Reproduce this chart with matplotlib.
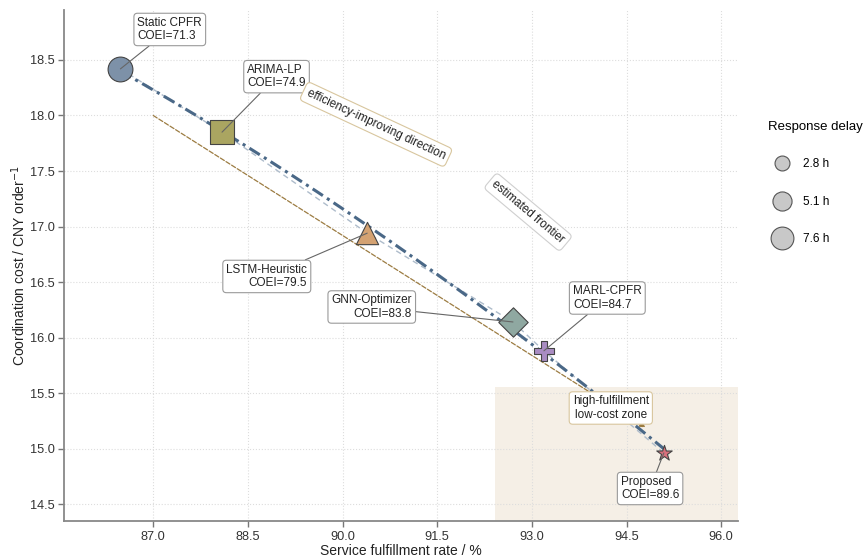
import numpy as np
import matplotlib
matplotlib.use('Agg')
import matplotlib.pyplot as plt
from matplotlib.lines import Line2D
from matplotlib.patches import Rectangle

plt.rcParams['font.family'] = ['Liberation Sans', 'DejaVu Sans']

# data
methods = ['Static CPFR', 'ARIMA-LP', 'LSTM-Heuristic', 'GNN-Optimizer', 'MARL-CPFR', 'Proposed']
fulfillment = [86.48, 88.09, 90.39, 92.70, 93.19, 95.09]
cost = [18.42, 17.85, 16.94, 16.14, 15.88, 14.96]
coei = [71.3, 74.9, 79.5, 83.8, 84.7, 89.6]
delay = [7.6, 6.9, 6.0, 5.1, 4.3, 2.8]
markers = ['o', 's', '^', 'D', 'P', '*']
colors = ['#7d91a8', '#aaa561', '#d4a272', '#8fa8a1', '#a98cc2', '#d9707c']
legend_delays = [2.8, 5.1, 7.6]

direction_start = (87.0, 18.0)
direction_end = (94.80, 15.19)
zone_x = 92.42
zone_y = 15.55

# label positions (text anchor in data coords) and alignment
label_pos = [(86.75, 18.775), (88.49, 18.35), (89.44, 16.55),
             (91.10, 16.275), (93.65, 16.356), (94.41, 14.64)]
label_ha = ['left', 'left', 'right', 'right', 'left', 'left']


def size_of(d):
    return 30 + 38 * d


fig = plt.figure(figsize=(8.66, 5.58), dpi=100)
ax = fig.add_axes([0.0742, 0.0663, 0.7776, 0.9157])
ax.set_xlim(85.59, 96.26)
ax.set_ylim(14.347, 18.95)

ax.add_patch(Rectangle((zone_x, 14.0), 10, zone_y - 14.0,
                       facecolor='#f5efe6', edgecolor='none', zorder=0))

# connecting polyline and fitted frontier
order = np.argsort(fulfillment)
xs = np.array(fulfillment)[order]
ys = np.array(cost)[order]
ax.plot(xs, ys, color='#aebccb', lw=1.0, linestyle=(0, (4, 3)), zorder=2)
coef = np.polyfit(xs, ys, 2)
xf = np.linspace(xs.min(), xs.max(), 200)
ax.plot(xf, np.polyval(coef, xf), color='#4a6887', lw=2.2,
        linestyle=(0, (4, 1.6, 1, 1.6)), zorder=3)

# efficiency arrow
ax.annotate('', xy=direction_end, xytext=direction_start,
            arrowprops=dict(arrowstyle='-|>', color='#9c7c42', lw=0.9,
                            linestyle='--', mutation_scale=8,
                            shrinkA=0, shrinkB=0), zorder=2)

for i in range(len(methods)):
    ax.scatter(fulfillment[i], cost[i], s=size_of(delay[i]), marker=markers[i],
               color=colors[i], edgecolor='#444444', linewidth=0.8, zorder=4)
    ax.annotate(f'{methods[i]}\nCOEI={coei[i]}', xy=(fulfillment[i], cost[i]),
                xytext=label_pos[i], textcoords='data', ha=label_ha[i], va='center',
                multialignment=label_ha[i], fontsize=8.5, color='#222222',
                linespacing=1.15,
                bbox=dict(boxstyle='round,pad=0.3', fc='white', ec='#9a9a9a', lw=0.8),
                arrowprops=dict(arrowstyle='-', color='#666666', lw=0.8,
                                shrinkA=0, shrinkB=0), zorder=5)

ax.text(90.53, 17.92, 'efficiency-improving direction', rotation=-25,
        rotation_mode='anchor', ha='center', va='center', fontsize=8.5, color='#222222',
        bbox=dict(boxstyle='round,pad=0.35', fc='white', ec='#d8c69e', lw=0.8), zorder=5)
ax.text(92.94, 17.13, 'estimated frontier', rotation=-40,
        rotation_mode='anchor', ha='center', va='center', fontsize=8.5, color='#222222',
        bbox=dict(boxstyle='round,pad=0.35', fc='white', ec='#cfcfcf', lw=0.8), zorder=5)
ax.text(94.25, 15.365, 'high-fulfillment\nlow-cost zone', ha='center', va='center',
        multialignment='center', fontsize=8.5, color='#222222', linespacing=1.15,
        bbox=dict(boxstyle='round,pad=0.3', fc='white', ec='#d8c69e', lw=0.8), zorder=5)

ax.set_xticks([87.0, 88.5, 90.0, 91.5, 93.0, 94.5, 96.0])
ax.set_yticks([14.5, 15.0, 15.5, 16.0, 16.5, 17.0, 17.5, 18.0, 18.5])
ax.xaxis.set_major_formatter(matplotlib.ticker.FormatStrFormatter('%.1f'))
ax.yaxis.set_major_formatter(matplotlib.ticker.FormatStrFormatter('%.1f'))
ax.tick_params(labelsize=9.2, labelcolor='#333333', length=4, width=1,
               direction='out', color='#777777', pad=3)
ax.grid(True, linestyle=':', color='#dddddd', lw=0.8)
ax.set_axisbelow(True)
for s in ['top', 'right']:
    ax.spines[s].set_visible(False)
for s in ['left', 'bottom']:
    ax.spines[s].set_color('#888888')
    ax.spines[s].set_linewidth(1.3)

ax.set_xlabel('Service fulfillment rate / %', fontsize=10, color='#222222', labelpad=1)
ax.set_ylabel('Coordination cost / CNY order$^{-1}$', fontsize=10, color='#222222', labelpad=1.5)

handles = [Line2D([], [], marker='o', linestyle='none', markersize=np.sqrt(size_of(d)) * 0.92,
                  markerfacecolor='#c8c8c8', markeredgecolor='#555555', markeredgewidth=0.8)
           for d in legend_delays]
leg = fig.legend(handles, [f'{d} h' for d in legend_delays], title='Response delay',
                 loc='upper left', bbox_to_anchor=(0.876, 0.80), frameon=False,
                 fontsize=8.5, title_fontsize=9.5, labelspacing=2.15, handlelength=2.4,
                 handletextpad=0.6, borderpad=0.3)
leg._legend_box.align = 'left'

fig.savefig('out.png', dpi=100)
